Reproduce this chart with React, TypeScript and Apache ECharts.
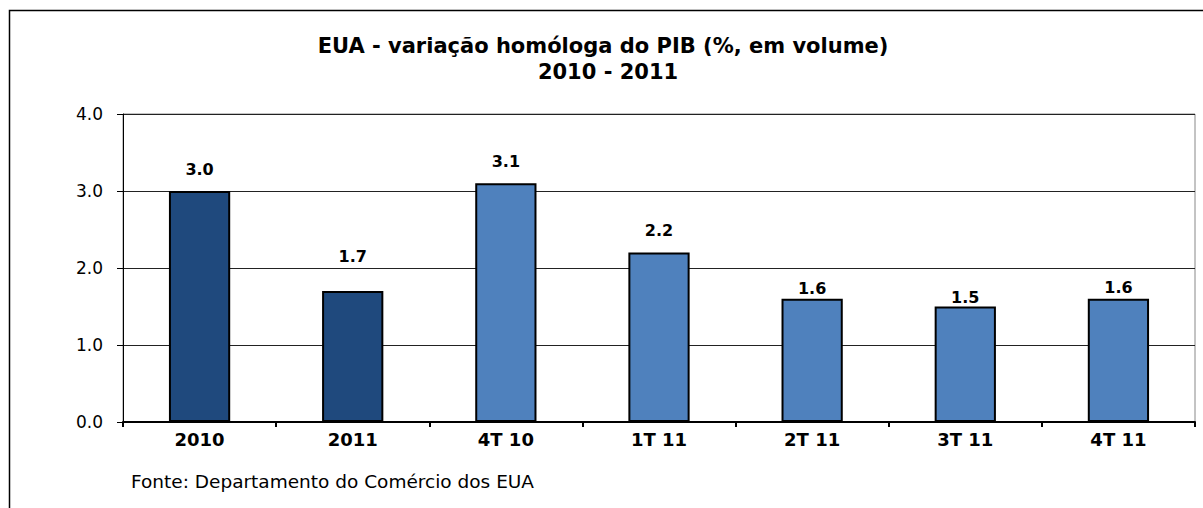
import React, { useEffect, useRef } from "react";
import * as echarts from "echarts";

const categories = ["2010", "2011", "4T 10", "1T 11", "2T 11", "3T 11", "4T 11"];
const gdpGrowth = [3.0, 1.7, 3.1, 2.2, 1.6, 1.5, 1.6];
const annualCount = 2; // first two categories are annual values
const yTicks = [0, 1, 2, 3, 4];

const titleLines = ["EUA - variação homóloga do PIB (%, em volume)", "2010 - 2011"];
const sourceNote = "Fonte: Departamento do Comércio dos EUA";

// label gaps (style only) mimicking the original label placement
const labelGap = [14, 27, 14, 14, 2, 1, 3];

const DARK = "#1F497D";
const LIGHT = "#4F81BD";
const FONT = "DejaVu Sans, Verdana, sans-serif";

export default function App() {
  const ref = useRef<HTMLDivElement>(null);

  useEffect(() => {
    if (!ref.current) return;
    const chart = echarts.init(ref.current, undefined, { renderer: "svg" });
    const data = gdpGrowth.map((v, i) => ({
      value: v,
      itemStyle: { color: i < annualCount ? DARK : LIGHT },
      label: { distance: labelGap[i] },
    }));
    chart.setOption({
      animation: false,
      backgroundColor: "#fff",
      textStyle: { fontFamily: FONT },
      graphic: [
        {
          type: "rect",
          shape: { x: 9.5, y: 10.5, width: 1400, height: 700 },
          style: { fill: "none", stroke: "#000", lineWidth: 1.5 },
          silent: true,
        },
        {
          type: "text",
          x: 603,
          y: 46,
          style: {
            text: titleLines[0],
            font: `bold 21px ${FONT}`,
            fill: "#000",
            align: "center",
            verticalAlign: "middle",
          },
        },
        {
          type: "text",
          x: 608,
          y: 72,
          style: {
            text: titleLines[1],
            font: `bold 21px ${FONT}`,
            fill: "#000",
            align: "center",
            verticalAlign: "middle",
          },
        },
        {
          type: "text",
          x: 131,
          y: 481,
          style: {
            text: sourceNote,
            font: `18.5px ${FONT}`,
            fill: "#000",
            align: "left",
            verticalAlign: "middle",
          },
        },
      ],
      grid: {
        left: 123,
        top: 114,
        width: 1072,
        height: 308,
        show: true,
        borderColor: "#888",
        borderWidth: 1,
        backgroundColor: "transparent",
      },
      xAxis: {
        type: "category",
        data: categories,
        axisLine: { show: true, lineStyle: { color: "#000", width: 2 } },
        axisTick: { show: true, length: 5, lineStyle: { color: "#000", width: 2 } },
        axisLabel: {
          color: "#000",
          fontWeight: "bold",
          fontSize: 18,
          margin: 8,
          fontFamily: FONT,
        },
        splitLine: { show: false },
      },
      yAxis: {
        type: "value",
        min: yTicks[0],
        max: yTicks[yTicks.length - 1],
        interval: 1,
        axisLine: { show: true, lineStyle: { color: "#000", width: 1 } },
        axisTick: { show: true, length: 6, lineStyle: { color: "#000" } },
        axisLabel: {
          color: "#000",
          fontSize: 17,
          margin: 20,
          fontFamily: FONT,
          formatter: (v: number) => v.toFixed(1),
        },
        splitLine: { show: true, lineStyle: { color: "#222", width: 1 } },
      },
      series: [
        {
          type: "bar",
          data,
          barWidth: "40%",
          itemStyle: { borderColor: "#000", borderWidth: 2 },
          label: {
            show: true,
            position: "top",
            color: "#000",
            fontWeight: "bold",
            fontSize: 16,
            fontFamily: FONT,
            formatter: (p: any) => Number(p.value).toFixed(1),
          },
        },
      ],
    });
    return () => chart.dispose();
  }, []);

  return (
    <div
      ref={ref}
      style={{ position: "fixed", left: 0, top: 0, width: 1203, height: 508 }}
    />
  );
}
